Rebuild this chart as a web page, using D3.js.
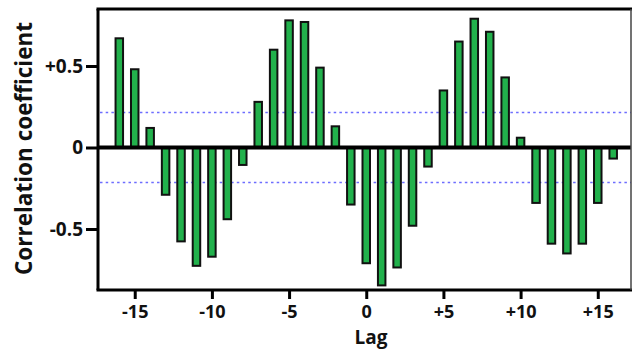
<!DOCTYPE html>
<html>
<head>
<meta charset="utf-8">
<script src="https://cdn.jsdelivr.net/npm/d3@7"></script>
<style>
  body { margin: 0; background: #fff; }
  text { font-family: "Open Sans", Lato, sans-serif; font-weight: 700; fill: #111; }
</style>
</head>
<body>
<div id="chart"></div>
<script>
const lags = d3.range(-16, 17);
const coefficients = [
  0.67, 0.48, 0.12, -0.29, -0.576, -0.726, -0.67, -0.44, -0.107,
  0.28, 0.60, 0.78, 0.77, 0.49, 0.13, -0.35, -0.71,
  -0.846, -0.736, -0.48, -0.117, 0.35, 0.65, 0.79, 0.71, 0.43, 0.06,
  -0.34, -0.59, -0.65, -0.59, -0.34, -0.068
];
const xTicks = [-15, -10, -5, 0, 5, 10, 15];
const yTicks = [-0.5, 0, 0.5];
const confidence = [0.215, -0.215];

const width = 632, height = 350;
const frame = { left: 98, right: 631, top: 9, bottom: 290 };

const svg = d3.select('#chart').append('svg')
  .attr('width', width)
  .attr('height', height);

const y = d3.scaleLinear().domain([-0.5, 0.5]).range([229, 66]);
const x = d3.scaleLinear().domain([-16, 16]).range([119.3, 613.2]);
const barW = 7.5;

// dotted confidence lines
svg.selectAll('.conf')
  .data(confidence)
  .enter()
  .append('line')
  .attr('x1', frame.left + 2)
  .attr('x2', frame.right)
  .attr('y1', d => y(d))
  .attr('y2', d => y(d))
  .attr('stroke', '#6d6dff')
  .attr('stroke-width', 1.6)
  .attr('stroke-dasharray', '2.5 3.2');

// bars
svg.selectAll('.bar')
  .data(lags.map((l, i) => ({ lag: l, value: coefficients[i] })))
  .enter()
  .append('rect')
  .attr('class', 'bar')
  .attr('x', d => x(d.lag) - barW / 2)
  .attr('width', barW)
  .attr('y', d => Math.min(y(d.value), y(0)))
  .attr('height', d => Math.abs(y(d.value) - y(0)))
  .attr('fill', '#22b14c')
  .attr('stroke', '#111')
  .attr('stroke-width', 2);

// zero line
svg.append('line')
  .attr('x1', frame.left)
  .attr('x2', frame.right)
  .attr('y1', y(0))
  .attr('y2', y(0))
  .attr('stroke', '#000')
  .attr('stroke-width', 4);

// frame
svg.append('line')
  .attr('x1', frame.left - 1.5).attr('x2', frame.right + 1)
  .attr('y1', frame.top).attr('y2', frame.top)
  .attr('stroke', '#000').attr('stroke-width', 3);
svg.append('line')
  .attr('x1', frame.left - 1.5).attr('x2', frame.right + 1)
  .attr('y1', frame.bottom).attr('y2', frame.bottom)
  .attr('stroke', '#000').attr('stroke-width', 3);
svg.append('line')
  .attr('x1', frame.left).attr('x2', frame.left)
  .attr('y1', frame.top).attr('y2', frame.bottom)
  .attr('stroke', '#000').attr('stroke-width', 3);
svg.append('line')
  .attr('x1', frame.right).attr('x2', frame.right)
  .attr('y1', frame.top).attr('y2', frame.bottom)
  .attr('stroke', '#444').attr('stroke-width', 1.5);

// Y axis
const yAxis = svg.append('g')
  .attr('transform', `translate(${frame.left - 1},0)`)
  .call(d3.axisLeft(y)
    .tickValues(yTicks)
    .tickSize(11)
    .tickPadding(3)
    .tickFormat(d => d > 0 ? '+' + d : d === 0 ? '0' : String(d)));
yAxis.select('.domain').remove();
yAxis.selectAll('line').attr('stroke', '#000').attr('stroke-width', 3);
yAxis.selectAll('text').style('font-size', '19px').attr('fill', '#111');

// X axis
const xAxis = svg.append('g')
  .attr('transform', `translate(0,${frame.bottom})`)
  .call(d3.axisBottom(x)
    .tickValues(xTicks)
    .tickSize(9)
    .tickPadding(6.5)
    .tickFormat(d => d > 0 ? '+' + d : String(d)));
xAxis.select('.domain').remove();
xAxis.selectAll('line').attr('stroke', '#000').attr('stroke-width', 3);
xAxis.selectAll('text').style('font-size', '18px').attr('fill', '#111');

// labels
svg.append('text')
  .text('Lag')
  .attr('x', 371)
  .attr('y', 344)
  .attr('text-anchor', 'middle')
  .style('font-size', '19px');

svg.append('text')
  .text('Correlation coefficient')
  .attr('transform', 'translate(32,148.5) rotate(-90)')
  .attr('text-anchor', 'middle')
  .style('font-size', '22.5px');
</script>
</body>
</html>
